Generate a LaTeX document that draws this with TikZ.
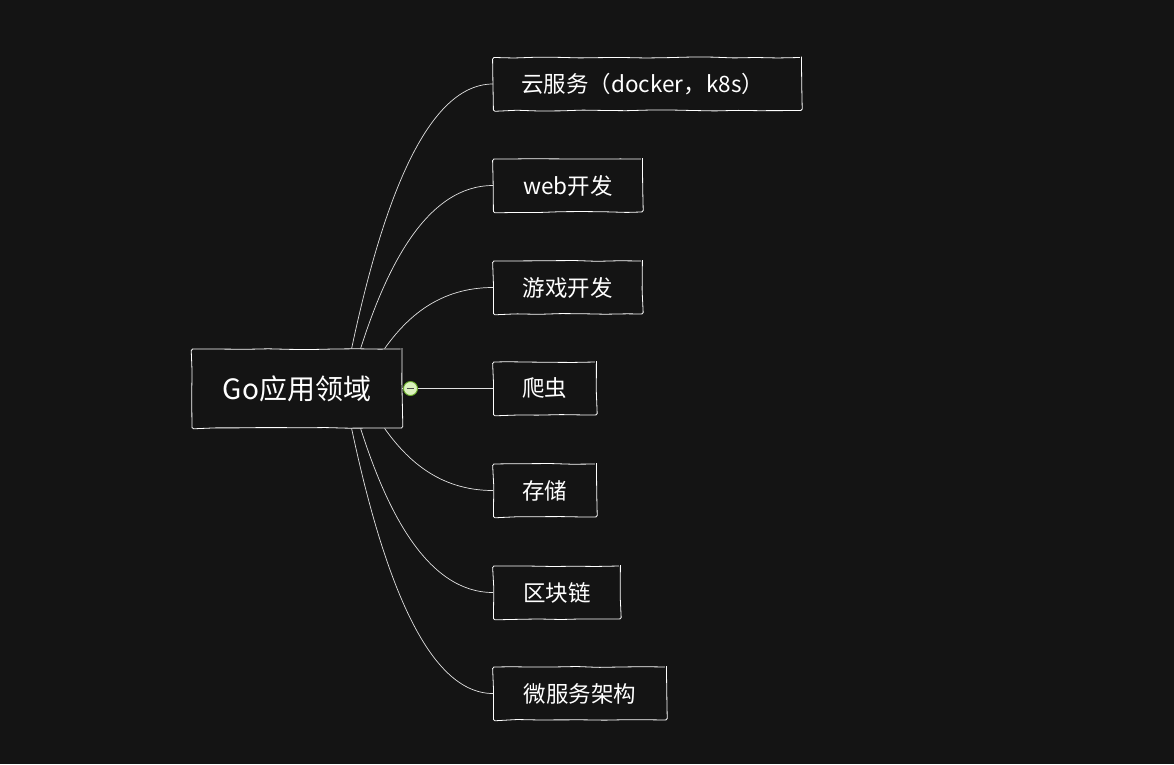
\documentclass[tikz,border=0pt]{standalone}
\usepackage{fontspec}
\setmainfont{Noto Sans CJK SC}
\usetikzlibrary{calc,decorations.pathmorphing}
\definecolor{bg}{RGB}{20,20,20}
\definecolor{togfill}{RGB}{220,242,190}
\definecolor{togline}{RGB}{104,172,40}
\definecolor{linkc}{RGB}{225,225,225}
\begin{document}
\begin{tikzpicture}[x=1pt,y=-1pt,
  sk/.style={draw=white, line width=0.8pt, decorate,
    decoration={random steps, segment length=22pt, amplitude=0.5pt},
    rounded corners=1.5pt, text=white, inner sep=0pt},
  childbox/.style={sk, anchor=west, minimum height=53pt,
    font=\fontsize{22.5}{26}\selectfont},
  link/.style={draw=linkc, line width=0.7pt}]
\pgfmathsetseed{7}
\fill[bg] (0,0) rectangle (1174,764);
\useasboundingbox (0,0) rectangle (1174,764);

\node[sk, minimum width=210pt, minimum height=79pt,
  font=\fontsize{28}{32}\selectfont] (g) at (297,388.5) {Go应用领域};

\node[childbox, minimum width=308pt, text width=252pt, align=left,
  inner xsep=28pt] (c1) at (493,84) {云服务（docker，k8s）};
\node[childbox, minimum width=149pt] (c2) at (493,185.5) {web开发};
\node[childbox, minimum width=149pt] (c3) at (493,287.5) {游戏开发};
\node[childbox, minimum width=103pt] (c4) at (493,388.5) {爬虫};
\node[childbox, minimum width=103pt] (c5) at (493,490.5) {存储};
\node[childbox, minimum width=127pt] (c6) at (493,592.5) {区块链};
\node[childbox, minimum width=173pt] (c7) at (493,693.5) {微服务架构};

\node[circle, draw=togline, fill=togfill, line width=0.9pt,
  minimum size=14pt, inner sep=0pt] (tg) at (410.5,388.5) {};
\draw[black!70, line width=1.1pt] ($(tg.center)+(-3.8,0)$) -- ($(tg.center)+(3.8,0)$);

\coordinate (s1) at ($(g.north west)+(160,0)$);
\coordinate (s2) at ($(g.north west)+(169,0)$);
\coordinate (s3) at ($(g.north west)+(193,0)$);
\coordinate (b1) at ($(g.south west)+(160,0)$);
\coordinate (b2) at ($(g.south west)+(169,0)$);
\coordinate (b3) at ($(g.south west)+(193,0)$);

\draw[link] (s1) .. controls +(28,-132) and +(-70,0) .. (c1.west);
\draw[link] (s2) .. controls +(26,-82) and +(-66,0) .. (c2.west);
\draw[link] (s3) .. controls +(22,-31) and +(-54,0) .. (c3.west);
\draw[link] (g.east) -- (tg.west);
\draw[link] (tg.east) -- (c4.west);
\draw[link] (b3) .. controls +(22,31) and +(-54,0) .. (c5.west);
\draw[link] (b2) .. controls +(26,82) and +(-66,0) .. (c6.west);
\draw[link] (b1) .. controls +(28,132) and +(-70,0) .. (c7.west);
\end{tikzpicture}
\end{document}
